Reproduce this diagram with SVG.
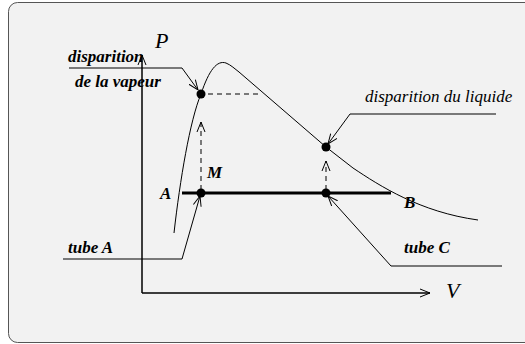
<svg xmlns="http://www.w3.org/2000/svg" width="525" height="344" viewBox="0 0 525 344">
<style>
.ln{fill:none;stroke:#000;stroke-width:1}
.ax{fill:none;stroke:#000;stroke-width:1.5}
.dash{fill:none;stroke:#000;stroke-width:1;stroke-dasharray:5,4}
.lb{font-family:"Liberation Serif","Times New Roman",serif;font-style:italic;font-weight:bold;font-size:17px;fill:#000}
.lr{font-family:"Liberation Serif","Times New Roman",serif;font-style:italic;font-size:17px;fill:#000}
.big{font-family:"Liberation Serif","Times New Roman",serif;font-style:italic;font-size:22px;fill:#000}
</style>
<defs>
<marker id="ah" viewBox="0 0 10 10" refX="10" refY="5" markerWidth="10" markerHeight="10" markerUnits="userSpaceOnUse" orient="auto">
<path d="M0,1 L10,5 L0,9" fill="none" stroke="#000" stroke-width="1"/>
</marker>
</defs>
<rect x="0" y="0" width="525" height="344" fill="#ffffff"/>
<rect x="8.5" y="2.5" width="530" height="340" rx="9" fill="#f2f2f2" stroke="#555" stroke-width="1"/>
<g id="axes">
<line class="ax" x1="142" y1="293" x2="142" y2="55" marker-end="url(#ah)"/>
<line class="ax" x1="142" y1="293" x2="430" y2="293" marker-end="url(#ah)"/>
<text class="big" x="155" y="48">P</text>
<text class="big" x="446" y="298">V</text>
</g>
<g id="curve">
<path class="ln" d="M174,233 C180,180 190,120 201,94 C209,70 217,60 226,63 C231,65 235,69 239,72 L326,147 L353,168 C380,186 420,212 478,220"/>
</g>
<g id="segment-AB">
<line x1="182" y1="193" x2="391" y2="193" stroke="#000" stroke-width="3"/>
<text class="lb" x="160" y="199">A</text>
<text class="lb" x="404" y="208">B</text>
</g>
<g id="connectors">
<line class="dash" x1="208" y1="94" x2="262" y2="94"/>
<line class="dash" x1="201" y1="190" x2="201" y2="122" marker-end="url(#ah)"/>
<line class="dash" x1="326" y1="190" x2="326" y2="161" marker-end="url(#ah)"/>
<polyline class="ln" points="69,68 182,68 198,90" marker-end="url(#ah)"/>
<polyline class="ln" points="496,114 350,114 328,144" marker-end="url(#ah)"/>
<polyline class="ln" points="63,259 182,259 200,196" marker-end="url(#ah)"/>
<polyline class="ln" points="502,266 391,266 328,196" marker-end="url(#ah)"/>
</g>
<g id="points">
<circle cx="201" cy="94" r="4.5"/>
<circle cx="326" cy="147" r="4.5"/>
<circle cx="201" cy="193" r="4.5"/>
<circle cx="326" cy="193" r="4.5"/>
<text class="lb" x="207" y="178">M</text>
</g>
<g id="label-vapeur">
<text class="lb" x="68" y="62">disparition</text>
<text class="lb" x="75" y="87">de la vapeur</text>
</g>
<g id="label-liquide">
<text class="lr" x="365" y="102">disparition du liquide</text>
</g>
<g id="label-tubeA">
<text class="lb" x="68" y="253">tube A</text>
</g>
<g id="label-tubeC">
<text class="lb" x="404" y="253">tube C</text>
</g>
</svg>
